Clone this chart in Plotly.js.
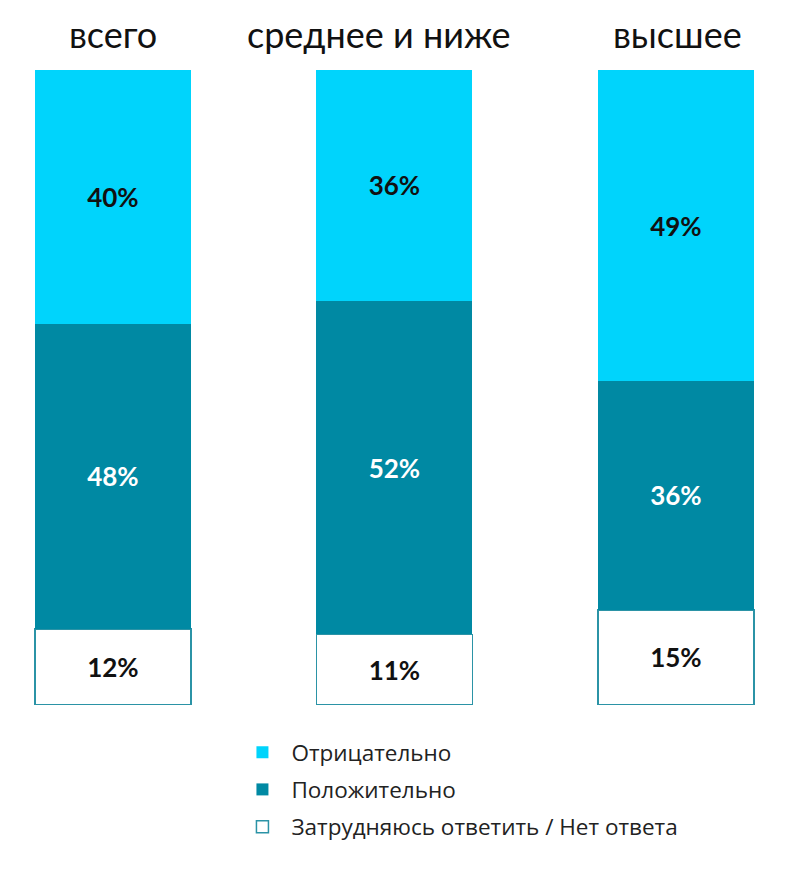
<!DOCTYPE html>
<html>
<head>
<meta charset="utf-8">
<script src="https://cdn.plot.ly/plotly-3.0.1.min.js"></script>
<style>
  body { margin: 0; background: #fff; }
  #chart { width: 786px; height: 889px; }
</style>
</head>
<body>
<div id="chart"></div>
<script>
// категории и доли, %
let groups = ["всего", "среднее и ниже", "высшее"]
let negative = [40, 36, 49]
let positive = [48, 52, 36]
let noAnswer = [12, 11, 15]

let seriesNames = ["Отрицательно", "Положительно", "Затрудняюсь ответить / Нет ответа"]

let lightBlue = "#00d4fc"
let darkTeal = "#0089a3"
let border = "#2b93a6"
let font = "Lato, 'Open Sans', sans-serif"

function pct(arr) {
    return arr.map(v => v + "%")
}

let barWidth = 0.554

let traces = [
    {
        x: groups, y: noAnswer, name: seriesNames[2], type: "bar",
        width: barWidth, legendrank: 3, legendgroup: "c",
        marker: { color: "#ffffff", line: { color: border, width: 1.5 } },
        text: pct(noAnswer), textposition: "inside", insidetextanchor: "middle",
        textangle: 0, textfont: { color: "#111", size: 26, family: font, weight: "bold" }
    },
    {
        x: groups, y: positive, name: seriesNames[1], type: "bar",
        width: barWidth, legendrank: 2, legendgroup: "b",
        marker: { color: darkTeal, line: { width: 0 } },
        text: pct(positive), textposition: "inside", insidetextanchor: "middle",
        textangle: 0, textfont: { color: "#ffffff", size: 26, family: font, weight: "bold" }
    },
    {
        x: groups, y: negative, name: seriesNames[0], type: "bar",
        width: barWidth, legendrank: 1, legendgroup: "a",
        marker: { color: lightBlue, line: { width: 0 } },
        text: pct(negative), textposition: "inside", insidetextanchor: "middle",
        textangle: 0, textfont: { color: "#111", size: 26, family: font, weight: "bold" }
    }
]

// подпись над средним столбцом в оригинале чуть смещена влево
let titleShift = [0, -15, 2]

let annotations = groups.map((g, i) => ({
    x: g, xref: "x", y: 1.057, yref: "paper",
    text: g, showarrow: false, yanchor: "middle", xshift: titleShift[i],
    font: { size: 36, color: "#111", family: font }
}))

let layout = {
    width: 786,
    height: 889,
    barmode: "stack",
    barnorm: "percent",
    bargap: 0,
    margin: { l: 0, r: 0, t: 70, b: 184 },
    paper_bgcolor: "#ffffff",
    plot_bgcolor: "#ffffff",
    font: { family: font },
    showlegend: true,
    legend: {
        x: 0.297, xanchor: "left",
        y: -0.041, yanchor: "top",
        traceorder: "grouped",
        tracegroupgap: 5,
        itemwidth: 48,
        font: { size: 22.5, color: "#222", family: "'Open Sans', sans-serif" },
        bgcolor: "rgba(0,0,0,0)"
    },
    xaxis: {
        type: "category",
        range: [-0.401, 2.391],
        showticklabels: false, showgrid: false, zeroline: false, showline: false,
        fixedrange: true
    },
    yaxis: {
        range: [0, 100],
        showticklabels: false, showgrid: false, zeroline: false, showline: false,
        fixedrange: true
    },
    annotations: annotations
}

Plotly.newPlot("chart", traces, layout, { displayModeBar: false, staticPlot: true })
</script>
</body>
</html>
